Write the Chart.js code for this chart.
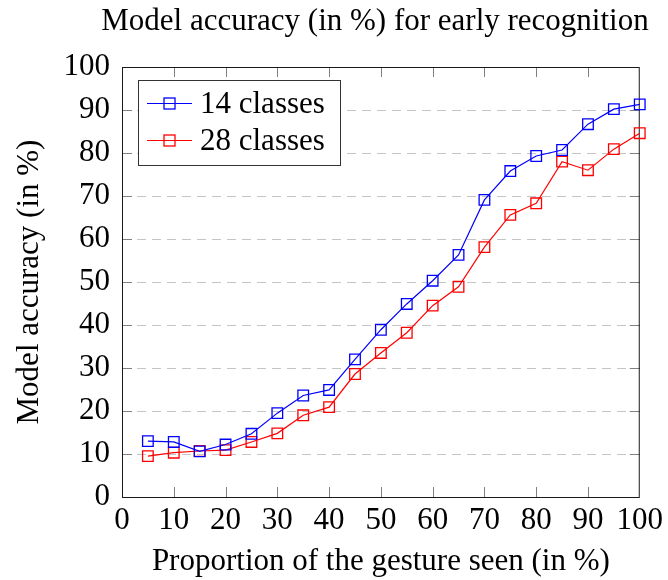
<!DOCTYPE html>
<html>
<head>
<meta charset="utf-8">
<title>Model accuracy for early recognition</title>
<script src="https://cdn.jsdelivr.net/npm/chart.js@4.4.1/dist/chart.umd.min.js"></script>
<style>
  html, body { margin: 0; padding: 0; background: #fff; }
  canvas { display: block; }
</style>
</head>
<body>
<canvas id="chart" width="668" height="580"></canvas>
<script>
// proportion of the gesture seen (%)
const proportions = [5, 10, 15, 20, 25, 30, 35, 40, 45, 50, 55, 60, 65, 70, 75, 80, 85, 90, 95, 100];
// accuracy (%) per model
const acc14 = [13.0, 12.8, 10.6, 12.2, 14.7, 19.5, 23.6, 24.9, 32.0, 38.9, 44.9, 50.3, 56.3, 69.1, 75.8, 79.3, 80.7, 86.7, 90.2, 91.3];
const acc28 = [9.5, 10.3, 10.7, 10.9, 12.8, 14.8, 19.0, 20.9, 28.6, 33.5, 38.2, 44.5, 48.9, 58.1, 65.6, 68.3, 78.0, 76.0, 80.9, 84.6];
const seriesNames = ["14 classes", "28 classes"];
const seriesColors = ["#0000ff", "#ff0000"];
const xTicks = [0, 10, 20, 30, 40, 50, 60, 70, 80, 90, 100];
const yTicks = [0, 10, 20, 30, 40, 50, 60, 70, 80, 90, 100];

const SERIF = "'Liberation Serif', 'Times New Roman', serif";
const FONT_SIZE = 31;

function points(ys) {
  return proportions.map((x, i) => ({ x: x, y: ys[i] }));
}

// frame with inward tick marks on all four sides
const framePlugin = {
  id: "frame",
  beforeDatasetsDraw(chart) {
    const { ctx, chartArea: a, scales: { x, y } } = chart;
    const len = 10;
    ctx.save();
    ctx.lineWidth = 1;
    ctx.strokeStyle = "#808080";
    ctx.beginPath();
    xTicks.slice(1, -1).forEach(v => {
      const px = Math.round(x.getPixelForValue(v)) + 0.5;
      ctx.moveTo(px, a.bottom); ctx.lineTo(px, a.bottom - len);
      ctx.moveTo(px, a.top); ctx.lineTo(px, a.top + len);
    });
    yTicks.slice(1, -1).forEach(v => {
      const py = Math.round(y.getPixelForValue(v)) + 0.5;
      ctx.moveTo(a.left, py); ctx.lineTo(a.left + len, py);
      ctx.moveTo(a.right, py); ctx.lineTo(a.right - len, py);
    });
    ctx.stroke();
    ctx.strokeStyle = "#1a1a1a";
    ctx.strokeRect(a.left + 0.5, a.top + 0.5, a.right - a.left - 1, a.bottom - a.top);
    ctx.restore();
  }
};

// title and boxed legend
const labelsPlugin = {
  id: "labels",
  afterDraw(chart) {
    const { ctx } = chart;
    ctx.save();
    ctx.fillStyle = "#000";
    ctx.font = FONT_SIZE + "px " + SERIF;
    ctx.textAlign = "center";
    ctx.textBaseline = "middle";
    ctx.fillText("Model accuracy (in %) for early recognition", 375, 22);

    const box = { left: 138, top: 80, width: 202, height: 85 };
    ctx.fillStyle = "#fff";
    ctx.fillRect(box.left, box.top, box.width, box.height);
    ctx.strokeStyle = "#333";
    ctx.lineWidth = 1;
    ctx.strokeRect(box.left + 0.5, box.top + 0.5, box.width, box.height);

    ctx.textAlign = "left";
    seriesNames.forEach((name, i) => {
      const cy = 103.5 + i * 37;
      ctx.strokeStyle = seriesColors[i];
      ctx.lineWidth = 1.2;
      ctx.beginPath();
      ctx.moveTo(147, cy); ctx.lineTo(192, cy);
      ctx.stroke();
      ctx.lineWidth = 1.3;
      ctx.strokeRect(164, cy - 5.5, 11, 11);
      ctx.fillStyle = "#000";
      ctx.fillText(name, 200, cy + 1);
    });
    ctx.restore();
  }
};

const ctx = document.getElementById("chart").getContext("2d");

new Chart(ctx, {
  type: "line",
  data: {
    datasets: [acc14, acc28].map((ys, i) => ({
      label: seriesNames[i],
      data: points(ys),
      borderColor: seriesColors[i],
      borderWidth: 1.2,
      pointStyle: "rect",
      pointRadius: 7.5,
      pointBorderWidth: 1.3,
      pointBorderColor: seriesColors[i],
      pointBackgroundColor: "rgba(0,0,0,0)",
      tension: 0,
      clip: false
    }))
  },
  options: {
    responsive: false,
    animation: false,
    layout: { padding: { top: 67, right: 28, left: 0, bottom: 0 } },
    plugins: {
      legend: { display: false },
      tooltip: { enabled: false },
      title: { display: false }
    },
    scales: {
      x: {
        type: "linear",
        min: 0,
        max: 100,
        afterBuildTicks: s => { s.ticks = xTicks.map(v => ({ value: v })); },
        afterFit: s => { s.height = 83; },
        grid: { display: false, drawTicks: false },
        border: { display: false },
        ticks: {
          color: "#000",
          padding: 5,
          maxRotation: 0,
          autoSkip: false,
          font: { family: SERIF, size: FONT_SIZE }
        },
        title: {
          display: true,
          text: "Proportion of the gesture seen (in %)",
          color: "#000",
          padding: { top: 0, bottom: 0 },
          font: { family: SERIF, size: FONT_SIZE }
        }
      },
      y: {
        min: 0,
        max: 100,
        afterBuildTicks: s => { s.ticks = yTicks.map(v => ({ value: v })); },
        afterFit: s => { s.width = 122; },
        grid: {
          drawTicks: false,
          lineWidth: 1,
          color: c => (c.tick && (c.tick.value === 0 || c.tick.value === 100)) ? "rgba(0,0,0,0)" : "#c4c4c4"
        },
        border: { display: false, dash: [9, 6] },
        ticks: {
          color: "#000",
          padding: 12,
          autoSkip: false,
          font: { family: SERIF, size: FONT_SIZE }
        },
        title: {
          display: true,
          text: "Model accuracy (in %)",
          color: "#000",
          padding: { top: 11, bottom: 0 },
          font: { family: SERIF, size: FONT_SIZE }
        }
      }
    }
  },
  plugins: [framePlugin, labelsPlugin]
});
</script>
</body>
</html>
